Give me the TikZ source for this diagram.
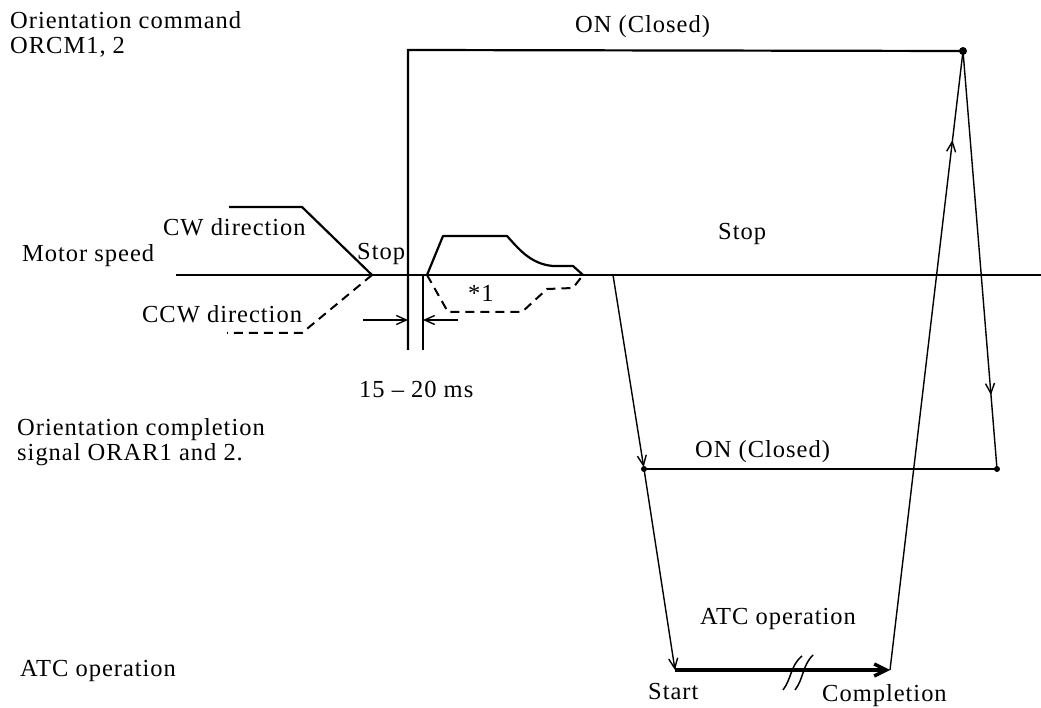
\documentclass[tikz,border=0pt]{standalone}
\usepackage{fontspec}
\setmainfont{Liberation Serif}[LetterSpace=4]
\usetikzlibrary{arrows.meta,decorations.markings}
\begin{document}
\begin{tikzpicture}[x=1pt,y=-1pt,
  lbl/.style={inner sep=0pt,anchor=base west,font=\fontsize{24.5}{26}\selectfont},
  sig/.style={line width=2.2pt},
  thinln/.style={line width=1.4pt},
  dsh/.style={line width=2pt,dash pattern=on 9pt off 6pt},
  barb/.style={-{Straight Barb[length=10pt,width=9pt]}},
  dotn/.style={circle,fill=black,inner sep=0pt,minimum size=#1},
  midarrow/.style={postaction={decorate},decoration={markings,mark=at position #1 with {\arrow{Straight Barb[length=10pt,width=9pt]}}}}]
\fill[white] (0,0) rectangle (1041,708);
\useasboundingbox (0,0) rectangle (1041,708);

% labels
\node[lbl] (orcmA) at (10,29) {Orientation command};
\node[lbl] (orcmB) at (10,54) {ORCM1, 2};
\node[lbl] (onTop) at (575,33) {ON (Closed)};
\node[lbl] (cw) at (163,236) {CW direction};
\node[lbl] (stopL) at (357,260) {Stop};
\node[lbl] (motor) at (22,262) {Motor speed};
\node[lbl] (ccw) at (142,323) {CCW direction};
\node[lbl] (stopR) at (718,240) {Stop};
\node[lbl] (star) at (468,302) {*1};
\node[lbl] (ms) at (359,397) {15 -- 20 ms};
\node[lbl] (oc1) at (17,435) {Orientation completion};
\node[lbl] (oc2) at (17,460) {signal ORAR1 and 2.};
\node[lbl] (onMid) at (695,457) {ON (Closed)};
\node[lbl] (atcR) at (700,624) {ATC operation};
\node[lbl] (atcL) at (20,676) {ATC operation};
\node[lbl] (start) at (648,699) {Start};
\node[lbl] (compl) at (822,701) {Completion};

% key points
\coordinate (vA) at (408,350);
\coordinate (vTop) at (408,50);
\node[dotn=8pt] (dTop) at (963,51) {};
\coordinate (mL) at (176,275);
\coordinate (mR) at (1041,275);
\coordinate (cw1) at (229,207);
\coordinate (cw2) at (302,207);
\coordinate (j) at (372,275);
\coordinate (ccw1) at (302,333);
\coordinate (ccw2) at (227,333);
\coordinate (vB1) at (423,275);
\coordinate (vB2) at (423,350);
\coordinate (aL) at (363,320);
\coordinate (aLt) at (408,320);
\coordinate (aR) at (458,320);
\coordinate (aRt) at (423,320);
\coordinate (p0) at (427,275);
\coordinate (p1) at (443,236);
\coordinate (p2) at (507,236);
\coordinate (p3) at (553,266);
\coordinate (p4) at (573,266);
\coordinate (p5) at (583,275);
\coordinate (q1) at (448,312);
\coordinate (q2) at (522,312);
\coordinate (q3) at (547,289);
\coordinate (q4) at (573,288);
\coordinate (s0) at (613,275);
\node[dotn=6pt] (dL) at (644,469) {};
\node[dotn=6pt] (dR) at (997,469) {};
\coordinate (atc0) at (675,670);
\coordinate (atc1) at (890,670);

% orientation command signal
\draw[sig] (vA) -- (vTop) -- (dTop.center);
% motor speed axis
\draw[sig] (mL) -- (mR);
\draw[sig] (cw1) -- (cw2) -- (j);
\draw[dsh] (j) -- (ccw1) -- (ccw2);
\draw[line width=1.7pt] (vB1) -- (vB2);
\draw[thinln,barb] (aL) -- (aLt);
\draw[thinln,barb] (aR) -- (aRt);
% speed profile
\draw[sig,line join=round] (p0) -- (p1) -- (p2) .. controls (518,248) and (530,264) .. (p3) -- (p4) -- (p5);
\draw[dsh] (p0) -- (q1) -- (q2) -- (q3) -- (q4) -- (p5);
% completion signal
\draw[sig] (dL.center) -- (dR.center);
% timing connectors
\draw[thinln,barb,shorten >=2pt] (s0) -- (dL.center);
\draw[thinln,barb] (dL.center) -- (atc0);
\draw[line width=3.4pt,-{Straight Barb[length=12pt,width=12pt]}] (atc0) -- (atc1);
\draw[line width=1.5pt] (783,690) .. controls (792,678) and (790,666) .. (802,656);
\draw[line width=1.5pt] (795,690) .. controls (804,678) and (802,666) .. (813,655);
\draw[thinln,midarrow=0.856] (atc1) -- (dTop.center);
\draw[thinln,midarrow=0.823] (dTop.center) -- (dR.center);
\end{tikzpicture}
\end{document}
